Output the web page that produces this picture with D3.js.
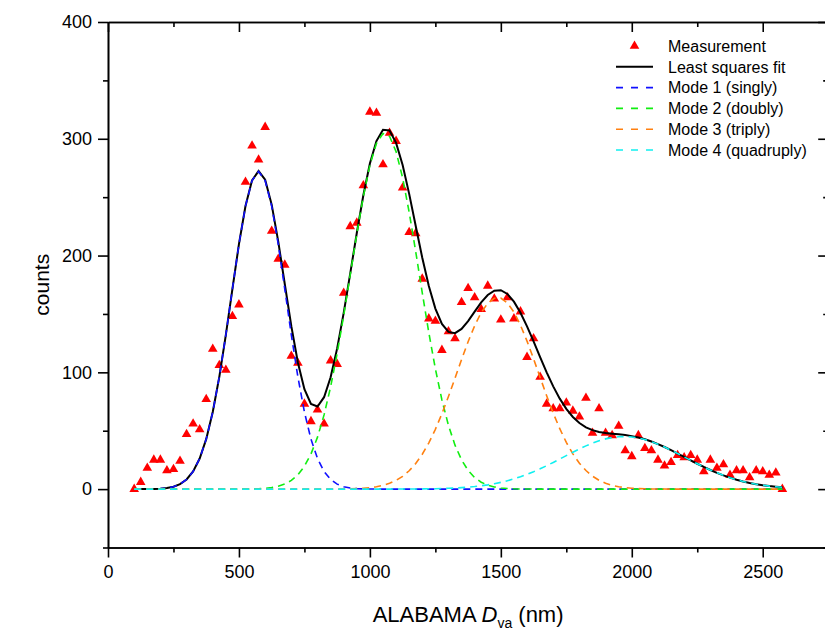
<!DOCTYPE html>
<html>
<head>
<meta charset="utf-8">
<script src="https://cdn.jsdelivr.net/npm/d3@7"></script>
<style>
  html, body { margin: 0; padding: 0; background: #fff; }
  svg { display: block; font-family: "Liberation Sans", Arial, sans-serif; }
</style>
</head>
<body>
<svg id="chart" width="825" height="633"></svg>
<script>
// ---- data ----
const sizes = [100,125,150,175,200,225,250,275,300,325,350,375,400,425,450,475,500,525,550,575,
  600,625,650,675,700,725,750,775,800,825,850,875,900,925,950,975,1000,1025,1050,1075,
  1100,1125,1150,1175,1200,1225,1250,1275,1300,1325,1350,1375,1400,1425,1450,1475,1500,1525,1550,1575,
  1600,1625,1650,1675,1700,1725,1750,1775,1800,1825,1850,1875,1900,1925,1950,1975,2000,2025,2050,2075,
  2100,2125,2150,2175,2200,2225,2250,2275,2300,2325,2350,2375,2400,2425,2450,2475,2500,2525,2550,2575];
const counts = [0,6,18,25,25,16,17,24,47,56,51,77,120,106,102,148,158,263,294,282,
  310,221,197,192,114,108,73,58,68,56,110,107,168,225,228,260,323,322,278,305,
  298,258,220,219,180,146,144,119,135,129,160,172,164,154,174,163,145,164,146,152,
  113,129,96,73,69,69,74,67,62,78,48,69,48,46,54,33,28,46,35,33,
  25,20,23,29,27,29,25,15,25,18,21,12,16,16,10,16,15,12,14,0];

// fitted Gaussian modes (centre, height, width)
const modeNames   = ["Mode 1 (singly)", "Mode 2 (doubly)", "Mode 3 (triply)", "Mode 4 (quadruply)"];
const modeCenters = [575, 1057, 1488, 1970];
const modeHeights = [272, 305, 164, 45];
const modeWidths  = [104, 131, 156, 232];
const modeColors  = ["#1010ff", "#11ee11", "#ff8010", "#10f0f0"];

const xMajorTicks = [0, 500, 1000, 1500, 2000, 2500];
const xMinorTicks = [250, 750, 1250, 1750, 2250, 2750];
const yMajorTicks = [0, 100, 200, 300, 400];
const yMinorTicks = [-50, 50, 150, 250, 350];

// ---- layout ----
const svg = d3.select("#chart");
const L = 108, R = 828.2, T = 22, B = 547.5;
const x = d3.scaleLinear().domain([0, 2750]).range([L, R]);
const y = d3.scaleLinear().domain([-50, 400]).range([B, T]);

const modeValue = (m, s) => modeHeights[m] * Math.exp(-Math.pow(s - modeCenters[m], 2) / (2 * modeWidths[m] * modeWidths[m]));
const modeSeries = modeNames.map((_, m) => sizes.map(s => ({ s, v: modeValue(m, s) })));
const fitSeries = sizes.map((s, i) => ({ s, v: d3.sum(modeNames, (_, m) => modeValue(m, s)) }));

// ---- axes ----
function styleAxis(g) {
  g.selectAll(".domain").attr("stroke", "#000").attr("stroke-width", 1.6);
  g.selectAll(".tick line").attr("stroke", "#000").attr("stroke-width", 1.6);
  g.selectAll(".tick text").attr("font-size", 18).attr("fill", "#000")
    .attr("font-family", "'Liberation Sans', Arial, sans-serif");
}
// bottom
svg.append("g").attr("transform", `translate(0,${B})`)
  .call(d3.axisBottom(x).tickValues(xMajorTicks).tickSize(10).tickSizeOuter(0).tickPadding(8).tickFormat(d3.format("d")))
  .call(styleAxis);
svg.append("g").attr("transform", `translate(0,${B})`)
  .call(d3.axisBottom(x).tickValues(xMinorTicks).tickSize(5).tickSizeOuter(0).tickFormat(""))
  .call(styleAxis);
// top (inward)
svg.append("g").attr("transform", `translate(0,${T})`)
  .call(d3.axisBottom(x).tickValues(xMajorTicks).tickSize(10).tickSizeOuter(0).tickFormat(""))
  .call(styleAxis);
svg.append("g").attr("transform", `translate(0,${T})`)
  .call(d3.axisBottom(x).tickValues(xMinorTicks).tickSize(5).tickSizeOuter(0).tickFormat(""))
  .call(styleAxis);
// left
svg.append("g").attr("transform", `translate(${L},0)`)
  .call(d3.axisLeft(y).tickValues(yMajorTicks).tickSize(10).tickSizeOuter(0).tickPadding(6).tickFormat(d3.format("d")))
  .call(styleAxis);
svg.append("g").attr("transform", `translate(${L},0)`)
  .call(d3.axisLeft(y).tickValues(yMinorTicks).tickSize(5).tickSizeOuter(0).tickFormat(""))
  .call(styleAxis);
// right (inward)
svg.append("g").attr("transform", `translate(${R},0)`)
  .call(d3.axisLeft(y).tickValues(yMajorTicks).tickSize(10).tickSizeOuter(0).tickFormat(""))
  .call(styleAxis);
svg.append("g").attr("transform", `translate(${R},0)`)
  .call(d3.axisLeft(y).tickValues(yMinorTicks).tickSize(5).tickSizeOuter(0).tickFormat(""))
  .call(styleAxis);

// axis titles
svg.append("text")
  .attr("transform", `translate(49,${(T + B) / 2}) rotate(-90)`)
  .attr("text-anchor", "middle").attr("font-size", 21).attr("fill", "#000")
  .text("counts");
const xt = svg.append("text")
  .attr("x", (L + R) / 2).attr("y", 621.5)
  .attr("text-anchor", "middle").attr("font-size", 22).attr("fill", "#000");
xt.append("tspan").text("ALABAMA ");
xt.append("tspan").attr("font-style", "italic").text("D");
xt.append("tspan").attr("font-size", 14).attr("dy", 6).text("va");
xt.append("tspan").attr("dy", -6).text(" (nm)");

// ---- marks ----
const triangle = d3.symbol().type(d3.symbolTriangle).size(40);
svg.append("g").selectAll("path")
  .data(sizes.map((s, i) => ({ s, v: counts[i] })))
  .join("path")
  .attr("d", triangle)
  .attr("transform", d => `translate(${x(d.s)},${y(d.v)})`)
  .attr("fill", "#ff0000");

const line = d3.line().x(d => x(d.s)).y(d => y(d.v));
svg.append("path").datum(fitSeries)
  .attr("d", line).attr("fill", "none").attr("stroke", "#000").attr("stroke-width", 2);
modeSeries.forEach((ser, m) => {
  svg.append("path").datum(ser)
    .attr("d", line).attr("fill", "none").attr("stroke", modeColors[m])
    .attr("stroke-width", 1.6).attr("stroke-dasharray", "7,5");
});

// ---- legend ----
const lg = svg.append("g");
const legY0 = 46, legStep = 20.8, symX0 = 616, symX1 = 653, textX = 668;
const legendItems = [{ name: "Measurement", kind: "sym" }, { name: "Least squares fit", kind: "line", color: "#000" }]
  .concat(modeNames.map((n, m) => ({ name: n, kind: "dash", color: modeColors[m] })));
legendItems.forEach((it, i) => {
  const yy = legY0 + i * legStep;
  if (it.kind === "sym") {
    lg.append("path").attr("d", triangle).attr("transform", `translate(${(symX0 + symX1) / 2},${yy})`).attr("fill", "#ff0000");
  } else {
    lg.append("line").attr("x1", symX0).attr("x2", symX1).attr("y1", yy).attr("y2", yy)
      .attr("stroke", it.color).attr("stroke-width", it.kind === "line" ? 2 : 1.6)
      .attr("stroke-dasharray", it.kind === "dash" ? "7,8" : null);
  }
  lg.append("text").attr("x", textX).attr("y", yy + 5.8).attr("font-size", 16).attr("fill", "#000").text(it.name);
});
</script>
</body>
</html>
